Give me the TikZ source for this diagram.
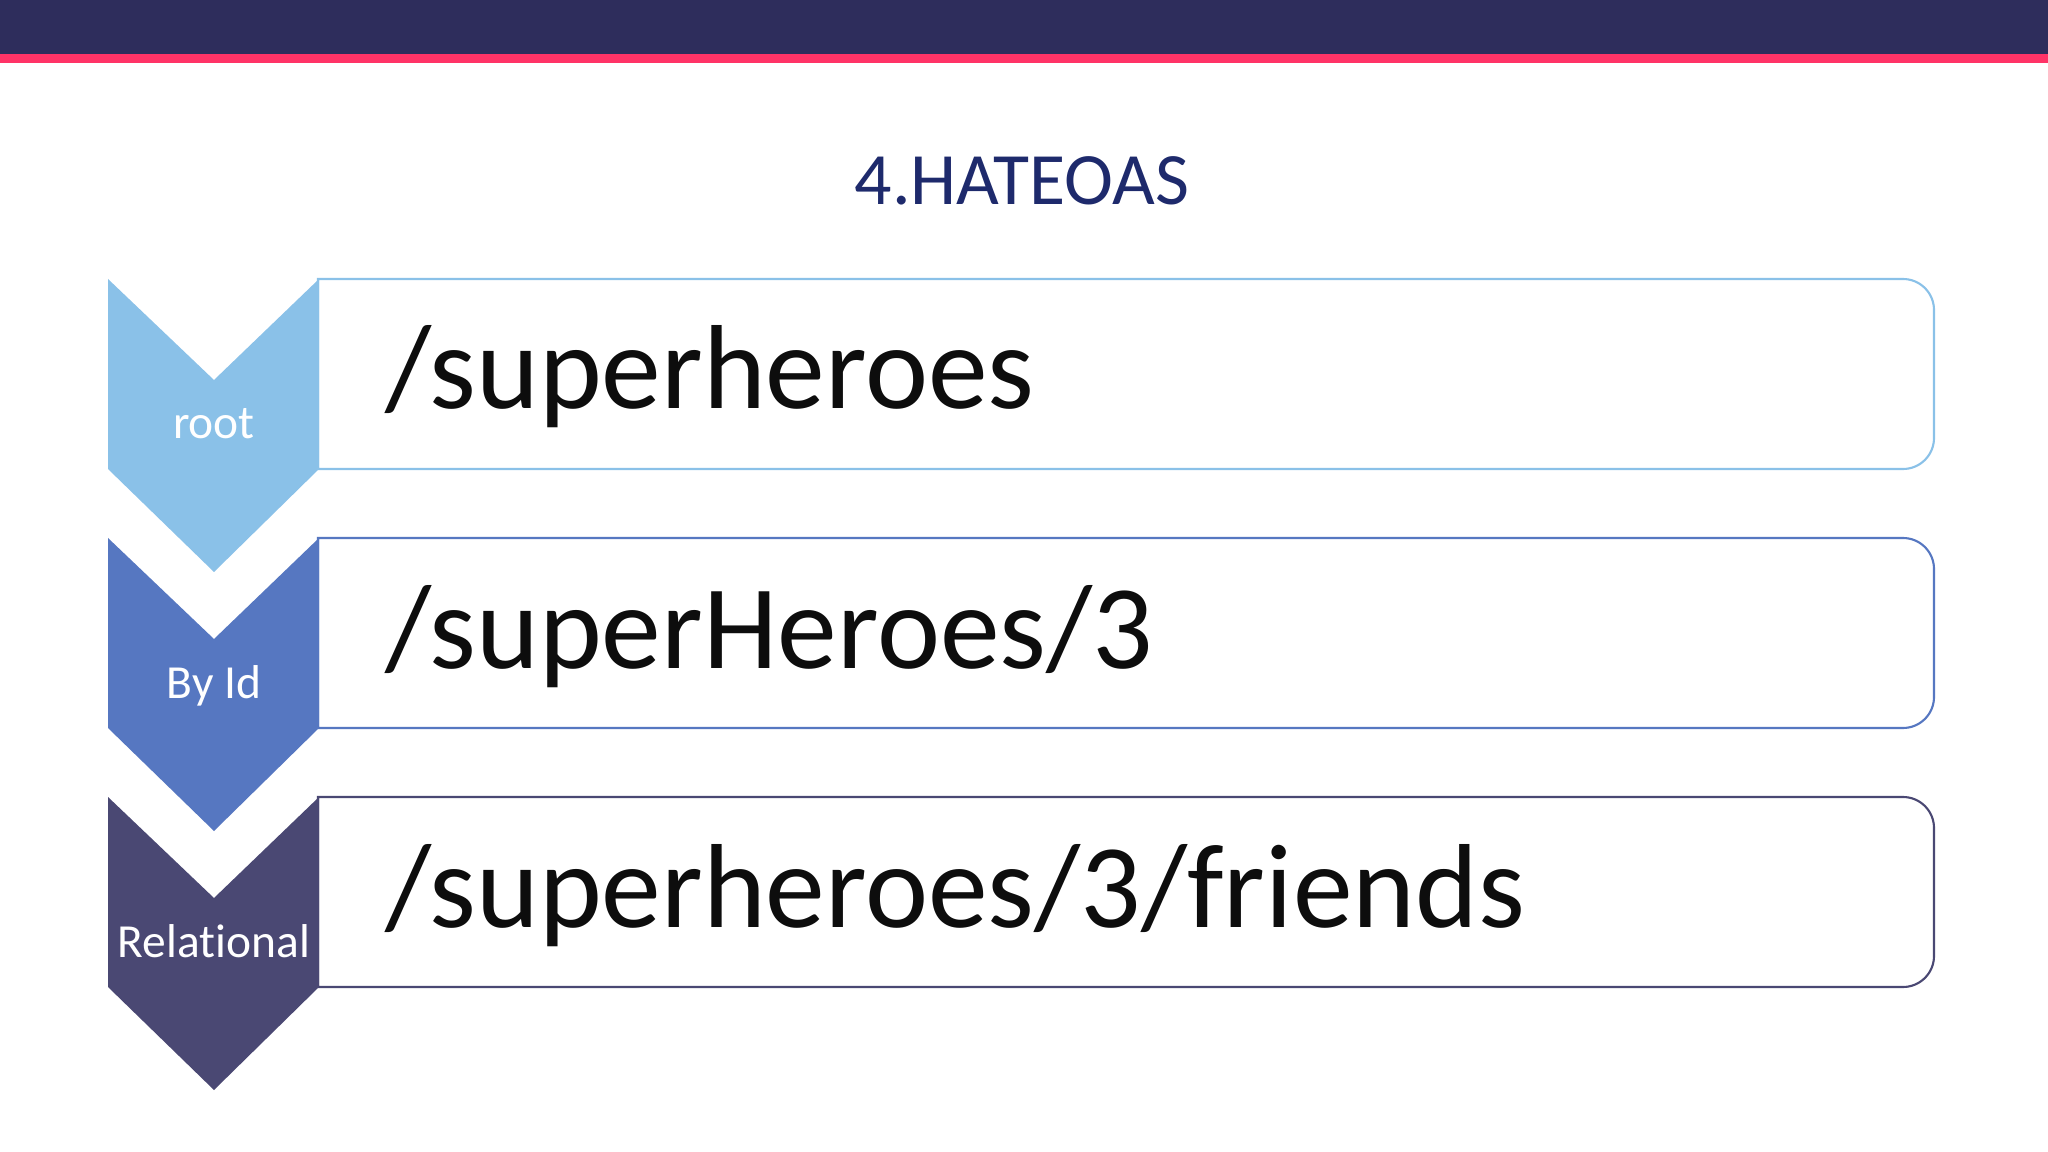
\documentclass[tikz,border=0pt]{standalone}
\usepackage{fontspec}
\setmainfont{Carlito}[Ligatures={NoCommon}]
\definecolor{barnavy}{HTML}{2E2D5C}
\definecolor{barpink}{HTML}{FF3367}
\definecolor{titleblue}{HTML}{1E2A6C}
\definecolor{cone}{HTML}{8AC1E8}
\definecolor{ctwo}{HTML}{5677C1}
\definecolor{cthree}{HTML}{4A4873}
\tikzset{
  chevlabel/.style={text=white, anchor=base, inner sep=0pt, font=\fontsize{13.5}{16}\selectfont},
  pathtext/.style={text=black!95, anchor=base west, inner sep=0pt, font=\fontsize{34}{40}\selectfont},
  boxline/.style={line width=0.6pt, fill=white},
}
\newcommand\hatrow[5]{%
  % #1 top (px), #2 colour, #3 label, #4 path text, #5 name
  \draw[boxline, draw=#2] (318,-#1) -- (1903,-#1)
     arc[start angle=90, end angle=0, radius=31]
     -- (1934,-#1-159)
     arc[start angle=0, end angle=-90, radius=31]
     -- (318,-#1-190) -- cycle;
  \fill[#2] (108,-#1) -- (214,-#1-101) -- (319,-#1) -- (319,-#1-190)
     -- (214,-#1-293) -- (108,-#1-190) -- cycle;
  \node[chevlabel] (#5lab) at (214,-#1-160) {#3};
  \node[pathtext] (#5txt) at (385,-#1-130) {#4};
}
\begin{document}
\begin{tikzpicture}[x=0.01cm, y=0.01cm]
  \useasboundingbox (0,0) rectangle (2048,-1152);
  \fill[white] (0,0) rectangle (2048,-1152);
  \fill[barnavy] (0,0) rectangle (2048,-54);
  \fill[barpink] (0,-54) rectangle (2048,-63);
  \node[text=titleblue, anchor=base, inner sep=0pt, font=\fontsize{21}{25}\selectfont] (title) at (1022,-205) {4.HATEOAS};
  \hatrow{279}{cone}{root}{/superheroes}{rowa}
  \hatrow{538}{ctwo}{By Id}{/superHeroes/3}{rowb}
  \hatrow{797}{cthree}{Relational}{/superheroes/3/friends}{rowc}
\end{tikzpicture}
\end{document}
